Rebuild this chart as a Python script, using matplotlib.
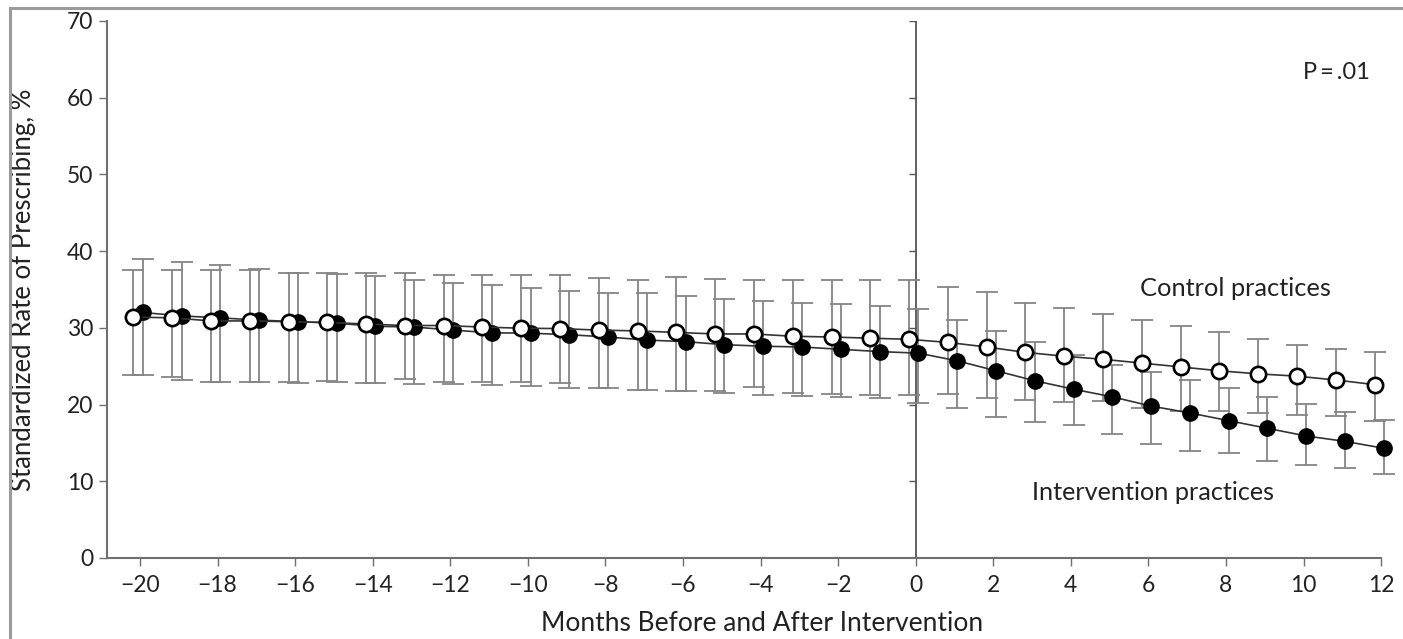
import matplotlib

matplotlib.use("Agg")
import matplotlib.pyplot as plt
import numpy as np
from matplotlib.lines import Line2D
from matplotlib.markers import TICKLEFT

months = np.arange(-20, 13)

control_mean = [31.4, 31.3, 30.9, 30.9, 30.8, 30.7, 30.5, 30.3, 30.3, 30.1, 29.95,
                29.9, 29.7, 29.6, 29.4, 29.2, 29.2, 28.9, 28.8, 28.65, 28.5,
                28.1, 27.5, 26.8, 26.3, 25.9, 25.4, 24.9, 24.4, 24.0, 23.7, 23.2, 22.6]
control_upper = [37.6, 37.6, 37.6, 37.6, 37.2, 37.1, 37.1, 37.1, 36.9, 36.9, 36.9,
                 36.9, 36.5, 36.2, 36.6, 36.3, 36.2, 36.2, 36.2, 36.2, 36.2,
                 35.3, 34.7, 33.3, 32.6, 31.8, 31.0, 30.2, 29.4, 28.5, 27.8, 27.2, 26.8]
control_lower = [23.9, 23.6, 23.0, 23.0, 22.9, 23.1, 22.8, 23.3, 23.0, 23.0, 22.9,
                 22.8, 22.1, 21.9, 21.7, 21.7, 22.3, 21.5, 21.4, 21.25, 21.2,
                 21.4, 20.8, 20.6, 20.3, 20.4, 19.6, 19.2, 19.1, 18.9, 18.6, 18.5, 17.8]

interv_mean = [32.0, 31.55, 31.3, 31.0, 30.8, 30.6, 30.2, 30.1, 29.7, 29.35, 29.3,
               29.1, 28.8, 28.4, 28.2, 27.8, 27.6, 27.5, 27.2, 26.9, 26.7,
               25.7, 24.4, 23.1, 22.0, 21.0, 19.8, 18.9, 17.9, 16.9, 15.9, 15.2, 14.3]
interv_upper = [39.0, 38.6, 38.2, 37.7, 37.2, 37.0, 36.7, 36.2, 35.9, 35.6, 35.2,
                34.8, 34.6, 34.5, 34.1, 33.7, 33.5, 33.3, 33.1, 32.8, 32.4,
                31.0, 29.6, 28.2, 26.5, 25.2, 24.2, 23.2, 22.1, 21.0, 20.1, 19.0, 18.0]
interv_lower = [23.9, 23.2, 23.0, 22.9, 22.8, 23.0, 22.8, 22.7, 22.7, 22.6, 22.4,
                22.1, 22.1, 21.9, 21.7, 21.5, 21.25, 21.1, 21.0, 20.8, 20.2,
                19.5, 18.4, 17.7, 17.3, 16.2, 14.9, 14.0, 13.7, 12.7, 12.1, 11.7, 11.0]

y_ticks = [0, 10, 20, 30, 40, 50, 60, 70]
x_ticks = list(range(-20, 13, 2))


def main():
    plt.rcParams["font.family"] = ["Lato", "DejaVu Sans"]
    axis_grey = "#707070"
    bar_grey = "#858585"
    text_col = "#222222"

    fig = plt.figure(figsize=(14.03, 6.39), dpi=100)
    ax = fig.add_axes([0.0763, 0.1268, 0.9081, 0.8404])

    c_mean = np.array(control_mean)
    i_mean = np.array(interv_mean)
    c_err = [c_mean - np.array(control_lower), np.array(control_upper) - c_mean]
    i_err = [i_mean - np.array(interv_lower), np.array(interv_upper) - i_mean]

    # error bars first, markers drawn over them
    ax.errorbar(months + 0.07, i_mean, yerr=i_err, fmt="none", ecolor=bar_grey,
                elinewidth=1.3, capsize=8, capthick=1.3, zorder=2, clip_on=False)
    ax.errorbar(months - 0.17, c_mean, yerr=c_err, fmt="none", ecolor=bar_grey,
                elinewidth=1.3, capsize=8, capthick=1.3, zorder=2, clip_on=False)

    ax.plot(months + 0.07, i_mean, "-o", color="#333333", linewidth=1.2,
            markerfacecolor="black", markeredgecolor="black", markersize=11,
            zorder=3, clip_on=False)
    ax.plot(months - 0.17, c_mean, "-o", color="#333333", linewidth=1.2,
            markerfacecolor="white", markeredgecolor="black", markersize=11,
            markeredgewidth=1.9, zorder=4, clip_on=False)

    # intervention line at month 0 with its own left ticks
    ax.plot([0, 0], [0, 70], color="#555555", linewidth=1.3, zorder=1)
    ax.plot(np.zeros(len(y_ticks) - 1), y_ticks[1:], linestyle="none",
            marker=TICKLEFT, markersize=5, markeredgewidth=1.0, color="#555555")

    ax.set_xlim(-20.85, 12)
    ax.set_ylim(0, 70)
    ax.set_xticks(x_ticks)
    ax.set_yticks(y_ticks)
    ax.tick_params(direction="out", length=6, width=1.0, color=axis_grey,
                   labelsize=16.5, labelcolor=text_col, pad=4)
    ax.tick_params(axis="x", pad=6)
    for side in ("top", "right"):
        ax.spines[side].set_visible(False)
    for side in ("left", "bottom"):
        ax.spines[side].set_color(axis_grey)
        ax.spines[side].set_linewidth(1.5)

    ax.set_xlabel("Months Before and After Intervention", fontsize=19, color=text_col)
    ax.xaxis.set_label_coords(0.514, -0.099)
    ax.set_ylabel("Standardized Rate of Prescribing, %", fontsize=18.5, color=text_col)
    ax.yaxis.set_label_coords(-0.0555, 0.5)

    ax.text(10.85, 63.3, "P\u2009=\u2009.01", fontsize=17, ha="center", va="center",
            color=text_col)
    ax.text(8.25, 35.1, "Control practices", fontsize=18.3, ha="center", va="center",
            color=text_col)
    ax.text(6.13, 8.5, "Intervention practices", fontsize=18.2, ha="center", va="center",
            color=text_col)

    # frame lines along the top and left edge of the figure
    fig.add_artist(Line2D([10 / 1403, 1], [1 - 8 / 639, 1 - 8 / 639], color="#9a9a9a",
                          linewidth=2.2, transform=fig.transFigure))
    fig.add_artist(Line2D([10 / 1403, 10 / 1403], [0, 1 - 8 / 639], color="#9a9a9a",
                          linewidth=2.2, transform=fig.transFigure))

    fig.savefig("out.png", dpi=100)
    plt.close(fig)


if __name__ == "__main__":
    main()
